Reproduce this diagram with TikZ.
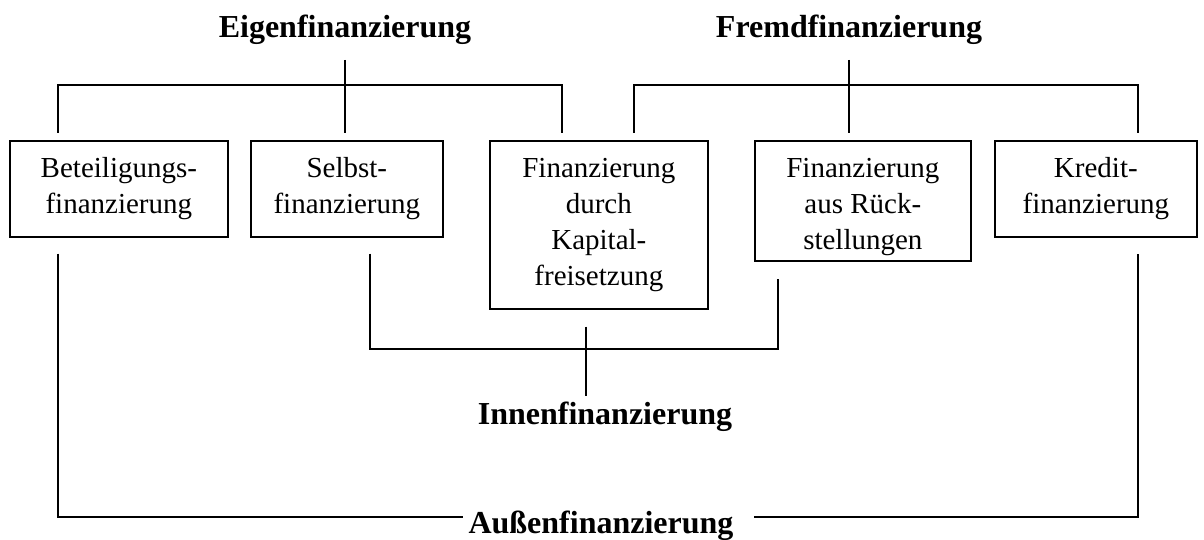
\documentclass[tikz,border=0pt]{standalone}
\usepackage{fontspec}
\setmainfont{Liberation Serif}
\begin{document}
\begin{tikzpicture}[x=0.5pt,y=-0.5pt,line width=0.85pt,
  box/.style={draw,anchor=north west,align=center,inner sep=0pt,font=\fontsize{14.5}{18}\selectfont},
  head/.style={anchor=base,inner sep=2.5pt,font=\fontsize{16}{19}\selectfont\bfseries}]
\useasboundingbox (0,0) rectangle (1204,540);

\node[head] (eigen) at (345,38) {Eigenfinanzierung};
\node[head] (fremd) at (849,38) {Fremdfinanzierung};

\node[box,minimum width=109pt,minimum height=48pt] (b1) at (9,140) {Beteiligungs-\\finanzierung};
\node[box,minimum width=96pt,minimum height=48pt] (b2) at (250,140) {Selbst-\\finanzierung};
\node[box,minimum width=109pt,minimum height=84pt] (b3) at (489,140) {Finanzierung\\durch\\Kapital-\\freisetzung};
\node[box,minimum width=108pt,minimum height=60pt] (b4) at (754,140) {\rule{0pt}{16pt}Finanzierung\\aus Rück-\\stellungen};
\node[box,minimum width=101pt,minimum height=48pt] (b5) at (994,140) {Kredit-\\finanzierung};

\node[head] (innen) at (605,424) {Innenfinanzierung};
\node[head] (aussen) at (601,533) {Außenfinanzierung};

\draw[shorten >=3.5pt] (eigen.south |- 0,60) -- (b2.north -| eigen.south);
\draw[shorten <=3.5pt,shorten >=3.5pt] (b1.north -| 58,0) |- (562,85) -- (b3.north -| 562,0);

\draw[shorten >=3.5pt] (fremd.south |- 0,60) -- (b4.north -| fremd.south);
\draw[shorten <=3.5pt,shorten >=3.5pt] (b3.north -| 634,0) |- (1138,85) -- (b5.north -| 1138,0);

\draw[shorten <=8pt,shorten >=8.5pt] (b2.south -| 370,0) |- (778,349) -- (b4.south -| 778,0);
\draw[shorten <=8.5pt] (b3.south -| 586,0) -- (innen.north -| 586,0);

\draw[shorten <=8pt] (b1.south -| 58,0) |- (aussen.west |- 0,517);
\draw[shorten <=7.5pt,shorten >=8pt] (aussen.east |- 0,517) -| (b5.south -| 1138,0);
\end{tikzpicture}
\end{document}
